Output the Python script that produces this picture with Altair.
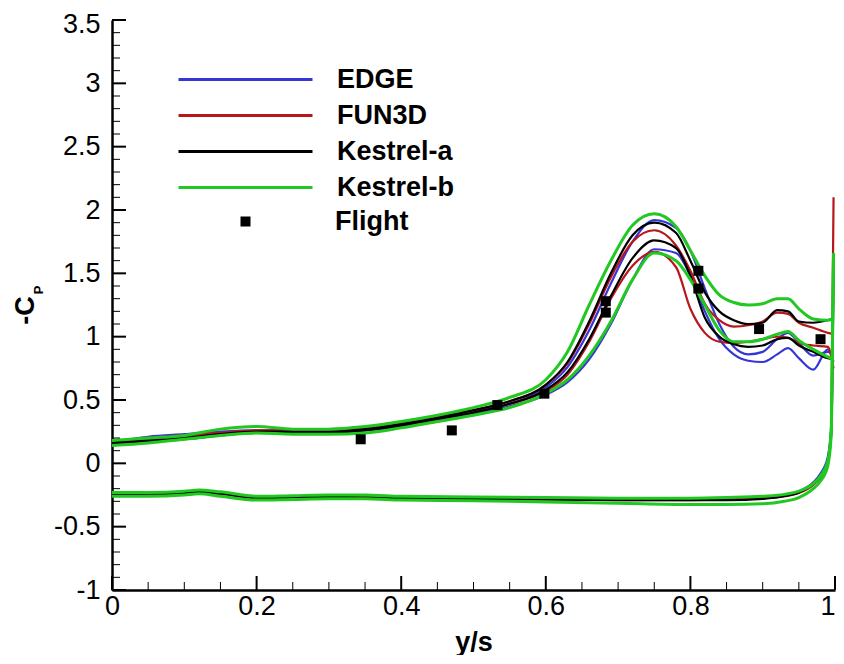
import altair as alt
import pandas as pd

solvers = ["EDGE", "FUN3D", "Kestrel-a", "Kestrel-b"]
colors = ["#3535d8", "#b8161a", "#000000", "#22c822"]
widths = [2.2, 2.2, 2.2, 3.0]

# upper-surface stations
xu = [0, 0.05, 0.1, 0.15, 0.2, 0.25, 0.3, 0.35, 0.4, 0.45, 0.5, 0.55, 0.6, 0.63, 0.66,
      0.69, 0.72, 0.75, 0.78, 0.8, 0.82, 0.84, 0.86, 0.88, 0.9, 0.92, 0.935, 0.95, 0.97, 0.99, 0.998]

edge_up1 = [0.17, 0.21, 0.23, 0.25, 0.26, 0.26, 0.26, 0.27, 0.31, 0.36, 0.41, 0.47, 0.6, 0.76, 1.05,
            1.42, 1.75, 1.92, 1.86, 1.68, 1.38, 1.1, 0.92, 0.86, 0.88, 0.98, 1.03, 0.95, 0.85, 0.88, 0.86]
edge_up2 = [0.16, 0.19, 0.21, 0.23, 0.25, 0.24, 0.24, 0.26, 0.29, 0.34, 0.39, 0.45, 0.54, 0.64, 0.82,
            1.1, 1.45, 1.69, 1.66, 1.48, 1.2, 0.98, 0.86, 0.81, 0.8, 0.86, 0.91, 0.83, 0.74, 0.9, 0.8]
fun3d_up1 = [0.17, 0.2, 0.22, 0.24, 0.26, 0.26, 0.26, 0.28, 0.32, 0.37, 0.42, 0.49, 0.62, 0.79, 1.1,
             1.47, 1.75, 1.84, 1.72, 1.52, 1.26, 1.13, 1.08, 1.09, 1.12, 1.19, 1.18, 1.11, 1.07, 1.03, 1.02]
fun3d_up2 = [0.16, 0.18, 0.2, 0.23, 0.25, 0.25, 0.25, 0.27, 0.3, 0.35, 0.41, 0.47, 0.57, 0.7, 0.96,
             1.3, 1.56, 1.67, 1.55, 1.22, 1.03, 0.96, 0.95, 0.96, 0.98, 1.0, 0.99, 0.95, 0.93, 0.92, 0.75]
ka_up1 = [0.17, 0.18, 0.2, 0.23, 0.25, 0.25, 0.25, 0.27, 0.31, 0.36, 0.42, 0.49, 0.62, 0.8, 1.12,
          1.5, 1.8, 1.9, 1.82, 1.6, 1.35, 1.2, 1.13, 1.1, 1.11, 1.21, 1.2, 1.12, 1.11, 1.13, 1.14]
ka_up2 = [0.16, 0.17, 0.19, 0.22, 0.24, 0.24, 0.24, 0.26, 0.3, 0.35, 0.4, 0.47, 0.58, 0.72, 0.98,
          1.32, 1.62, 1.76, 1.7, 1.48, 1.15, 1.0, 0.94, 0.92, 0.93, 0.98, 0.99, 0.93, 0.88, 0.83, 0.82]
kb_up1 = [0.18, 0.2, 0.22, 0.27, 0.29, 0.27, 0.27, 0.29, 0.33, 0.38, 0.44, 0.52, 0.66, 0.88, 1.25,
          1.6, 1.88, 1.97, 1.87, 1.68, 1.48, 1.33, 1.27, 1.25, 1.26, 1.3, 1.3, 1.22, 1.14, 1.13, 1.14]
kb_up2 = [0.14, 0.16, 0.19, 0.22, 0.24, 0.23, 0.23, 0.24, 0.28, 0.33, 0.38, 0.44, 0.55, 0.66, 0.85,
          1.12, 1.45, 1.66, 1.6, 1.45, 1.25, 1.05, 0.96, 0.96, 0.98, 1.02, 1.04, 0.97, 0.9, 0.84, 0.82]

# lower-surface stations, ending with the tip spike
xl = [0, 0.05, 0.1, 0.12, 0.15, 0.2, 0.25, 0.3, 0.35, 0.4, 0.5, 0.6, 0.7, 0.8, 0.85, 0.9,
      0.93, 0.95, 0.97, 0.98, 0.99, 0.995, 0.998]
edge_lo = [-0.24, -0.24, -0.23, -0.22, -0.24, -0.27, -0.27, -0.265, -0.26, -0.27, -0.275, -0.28,
           -0.285, -0.285, -0.28, -0.27, -0.25, -0.22, -0.15, -0.08, 0.05, 0.3, 1.6]
fun3d_lo = [-0.25, -0.245, -0.235, -0.225, -0.24, -0.275, -0.27, -0.27, -0.265, -0.275, -0.28, -0.285,
            -0.29, -0.29, -0.285, -0.275, -0.26, -0.235, -0.17, -0.11, 0.0, 0.25, 2.1]
ka_lo = [-0.245, -0.24, -0.235, -0.225, -0.24, -0.27, -0.27, -0.265, -0.27, -0.275, -0.28, -0.285,
         -0.29, -0.29, -0.29, -0.28, -0.26, -0.23, -0.16, -0.1, 0.02, 0.28, 1.62]
kb_lo1 = [-0.23, -0.23, -0.22, -0.21, -0.225, -0.26, -0.255, -0.25, -0.25, -0.26, -0.265, -0.27,
          -0.275, -0.275, -0.27, -0.26, -0.245, -0.22, -0.16, -0.1, 0.02, 0.3, 1.66]
kb_lo2 = [-0.26, -0.26, -0.25, -0.24, -0.26, -0.29, -0.285, -0.28, -0.28, -0.29, -0.295, -0.305,
          -0.315, -0.325, -0.325, -0.32, -0.3, -0.27, -0.2, -0.14, -0.02, 0.25, 1.66]

flight_x = [0.344, 0.470, 0.533, 0.598, 0.683, 0.683, 0.811, 0.811, 0.895, 0.980]
flight_y = [0.19, 0.26, 0.46, 0.55, 1.28, 1.19, 1.52, 1.38, 1.06, 0.98]

y_major = [-1, -0.5, 0, 0.5, 1, 1.5, 2, 2.5, 3, 3.5]
x_major = [0, 0.2, 0.4, 0.6, 0.8, 1]
y_minor = [round(-1 + 0.1 * i, 2) for i in range(46) if i % 5]
x_minor = [round(0.05 * i, 2) for i in range(21) if i % 4]

rows = []
def add(solver, part, xs, ys):
    for xv, yv in zip(xs, ys):
        rows.append({"solver": solver, "part": part, "x": xv, "y": yv})

add("EDGE", "u1", xu, edge_up1); add("EDGE", "u2", xu, edge_up2); add("EDGE", "l", xl, edge_lo)
add("FUN3D", "u1", xu, fun3d_up1); add("FUN3D", "u2", xu, fun3d_up2); add("FUN3D", "l", xl, fun3d_lo)
add("Kestrel-a", "u1", xu, ka_up1); add("Kestrel-a", "u2", xu, ka_up2); add("Kestrel-a", "l", xl, ka_lo)
add("Kestrel-b", "u1", xu, kb_up1); add("Kestrel-b", "u2", xu, kb_up2)
add("Kestrel-b", "l1", xl, kb_lo1); add("Kestrel-b", "l2", xl, kb_lo2)
df = pd.DataFrame(rows)

flight = pd.DataFrame({"x": flight_x, "y": flight_y, "src": ["Flight"] * len(flight_x)})

FONT = "Liberation Sans"
W, H = 723, 570
xscale = alt.Scale(domain=[0, 1], nice=False, zero=False)
yscale = alt.Scale(domain=[-1, 3.5], nice=False, zero=False)

xaxis = alt.Axis(values=x_major, grid=False, ticks=False, tickSize=0, domainColor="black",
                 domainWidth=2.5, labelFont=FONT, labelFontSize=27, labelColor="black",
                 labelPadding=3, labelFlush=False, labelExpr="'' + datum.value",
                 labelAlign={"expr": "datum.value >= 1 ? 'right' : 'center'"},
                 labelBound=False,
                 title="y/s", titleFont=FONT, titleFontSize=27, titleFontWeight="bold",
                 titleColor="black", titleY=60, titleBaseline="alphabetic")
yaxis = alt.Axis(values=y_major, grid=False, ticks=False, tickSize=0, domainColor="black",
                 domainWidth=2.5, labelFont=FONT, labelFontSize=27, labelColor="black",
                 labelPadding=12, labelFlush=False, labelExpr="'' + datum.value",
                 labelBaseline={"expr": "datum.value >= 3.5 ? 'top' : 'middle'"},
                 labelOffset={"expr": "datum.value >= 3.5 ? -9 : 0"},
                 title="-C", titleFont=FONT, titleFontSize=27, titleFontWeight="bold",
                 titleColor="black", titleX=-87, titleY=290, titleAngle=270,
                 titleAlign="center", titleBaseline="middle")

color_legend = alt.Legend(orient="none", legendX=120, legendY=46, title=None, padding=0,
                          symbolType="M-6.7,0H6.7", symbolSize=400, symbolStrokeWidth=3,
                          labelFont=FONT, labelFontSize=27, labelFontWeight="bold",
                          labelColor="black", labelOffset=78, rowPadding=8)

X = lambda f: alt.X(f, scale=xscale, axis=xaxis)
Y = lambda f: alt.Y(f, scale=yscale, axis=yaxis)

layers = []
for i, s in enumerate(solvers):
    layers.append(
        alt.Chart(df).transform_filter(alt.datum.solver == s)
        .mark_line(interpolate="monotone", strokeWidth=widths[i])
        .encode(
            x=X("x:Q"), y=Y("y:Q"), detail="part:N",
            color=alt.Color("solver:N", scale=alt.Scale(domain=solvers, range=colors),
                            legend=color_legend),
        )
    )

points = alt.Chart(flight).mark_point(shape="square", filled=True, color="black", size=100,
                                      opacity=1).encode(
    x=X("x:Q"), y=Y("y:Q"),
    shape=alt.Shape("src:N", scale=alt.Scale(domain=["Flight"], range=["square"]),
                    legend=alt.Legend(orient="none", legendX=120, legendY=188, title=None,
                                      padding=0, symbolSize=100, symbolFillColor="black",
                                      symbolStrokeWidth=0, labelFont=FONT, labelFontSize=27,
                                      labelFontWeight="bold", labelColor="black",
                                      labelOffset=76)),
)

def yticks(vals, length, sw):
    return alt.Chart(pd.DataFrame({"y": vals})).mark_rule(color="black", strokeWidth=sw).encode(
        y=Y("y:Q"), x=alt.value(0), x2=alt.value(length))

def xticks(vals, length, sw):
    return alt.Chart(pd.DataFrame({"x": vals})).mark_rule(color="black", strokeWidth=sw).encode(
        x=X("x:Q"), y=alt.value(H), y2=alt.value(H - length))

sub = alt.Chart(pd.DataFrame({"t": ["P"]})).mark_text(
    font=FONT, fontSize=13, fontWeight="bold", angle=270, align="center", baseline="middle",
    color="black").encode(text="t:N", x=alt.value(-73), y=alt.value(270))

chart = alt.layer(
    *layers, points,
    yticks(y_major, 14, 2), yticks(y_minor, 8, 1),
    xticks(x_major, 14, 2), xticks(x_minor, 8, 1),
    sub,
).properties(
    width=W, height=H,
    autosize=alt.AutoSizeParams(type="none"),
    padding={"left": 104, "top": 12, "right": 1, "bottom": 65},
    background="white",
).configure_view(stroke=None)

chart.save("out.html", embed_options={"renderer": "svg", "actions": False})
